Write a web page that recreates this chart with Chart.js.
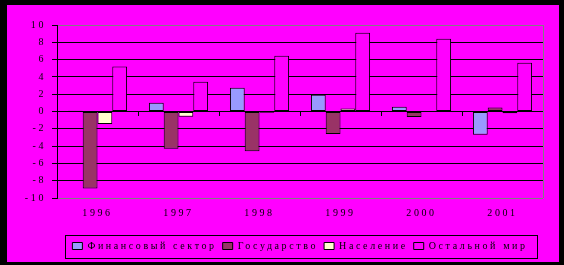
<!DOCTYPE html>
<html>
<head>
<meta charset="utf-8">
<script src="https://cdn.jsdelivr.net/npm/chart.js@4/dist/chart.umd.min.js"></script>
<style>
  html, body { margin: 0; padding: 0; background: #000; }
  #c { display: block; }
</style>
</head>
<body>
<canvas id="c" width="564" height="265"></canvas>
<script>
const years = ['1996', '1997', '1998', '1999', '2000', '2001'];
const finSector = [0.1, 1.0, 2.75, 1.95, 0.55, -2.7];
const government = [-8.9, -4.3, -4.6, -2.6, -0.65, 0.45];
const population = [-1.45, -0.6, -0.15, 0.35, 0.0, -0.2];
const restWorld = [5.2, 3.45, 6.45, 9.1, 8.4, 5.65];
const seriesNames = ['Финансовый сектор', 'Государство', 'Население', 'Остальной мир'];
const yTicks = [-10, -8, -6, -4, -2, 0, 2, 4, 6, 8, 10];

const SPACING = '2.6px';
const setSpacing = (chart) => { chart.ctx.letterSpacing = SPACING; };

const frame = {
  id: 'frame',
  beforeUpdate: setSpacing,
  beforeLayout: setSpacing,
  beforeDraw(chart) {
    const ctx = chart.ctx;
    ctx.save();
    ctx.fillStyle = '#000';
    ctx.fillRect(0, 0, chart.width, chart.height);
    ctx.fillStyle = '#FF00FF';
    ctx.fillRect(7, 5, 552, 257);
    ctx.restore();
    setSpacing(chart);
  },
  beforeDatasetsDraw(chart) {
    const a = chart.chartArea, ctx = chart.ctx;
    ctx.save();
    ctx.strokeStyle = '#808080';
    ctx.lineWidth = 1;
    ctx.beginPath();
    ctx.moveTo(Math.round(a.right) + 0.5, a.top);
    ctx.lineTo(Math.round(a.right) + 0.5, a.bottom);
    ctx.stroke();
    ctx.restore();
  },
  afterDraw(chart) {
    const hb = chart.legend && chart.legend.legendHitBoxes;
    if (!hb || !hb.length) return;
    const ctx = chart.ctx;
    const first = hb[0], last = hb[hb.length - 1];
    const left = Math.round(first.left - 7);
    const right = Math.round(last.left + last.width + 9);
    const cy = first.top + first.height / 2;
    const top = Math.round(cy - 11.5);
    const bottom = Math.round(cy + 11.5);
    ctx.save();
    ctx.strokeStyle = '#000';
    ctx.lineWidth = 1;
    ctx.strokeRect(left + 0.5, top + 0.5, right - left, bottom - top);
    ctx.restore();
  }
};

Chart.defaults.font.family = "'Liberation Serif', 'DejaVu Serif', serif";
Chart.defaults.font.size = 10;
Chart.defaults.color = '#000';

new Chart(document.getElementById('c'), {
  type: 'bar',
  data: {
    labels: years,
    datasets: [
      { label: seriesNames[0], data: finSector, backgroundColor: '#9999FF' },
      { label: seriesNames[1], data: government, backgroundColor: '#993366' },
      { label: seriesNames[2], data: population, backgroundColor: '#FFFFCC' },
      { label: seriesNames[3], data: restWorld, backgroundColor: '#FF00FF' }
    ].map(d => Object.assign(d, { borderColor: '#000', borderWidth: 1, borderSkipped: false, categoryPercentage: 0.73, barPercentage: 1.0 }))
  },
  options: {
    responsive: false,
    animation: false,
    events: [],
    layout: { padding: { left: 0, top: 25, right: 21, bottom: 4 } },
    plugins: {
      tooltip: { enabled: false },
      legend: {
        position: 'bottom',
        fullSize: false,
        labels: {
          boxWidth: 10,
          boxHeight: 7,
          padding: 6,
          color: '#000',
          font: { size: 10 }
        }
      }
    },
    scales: {
      x: {
        type: 'category',
        offset: true,
        grid: { display: false, drawTicks: false, offset: true },
        border: { display: false },
        ticks: { padding: 9, color: '#000', maxRotation: 0, autoSkip: false },
        afterFit(s) { s.height = 37; }
      },
      x2: {
        type: 'category',
        axis: 'x',
        position: { y: 0 },
        offset: true,
        grid: { offset: true, drawOnChartArea: false, drawTicks: true, tickLength: 4, color: '#000', tickColor: '#000' },
        border: { display: true, color: '#000', width: 1 },
        ticks: { display: false }
      },
      y: {
        min: -10,
        max: 10,
        afterBuildTicks(s) { s.ticks = yTicks.map(v => ({ value: v })); },
        grid: {
          color: (c) => (c.tick && Math.abs(c.tick.value) === 10) ? '#808080' : '#000',
          tickColor: '#000',
          tickLength: 5,
          lineWidth: 1
        },
        border: { display: true, color: '#000', width: 1 },
        ticks: { padding: 6, color: '#000', font: { size: 10 } },
        afterFit(s) { s.width = 57; }
      }
    }
  },
  plugins: [frame]
});
</script>
</body>
</html>
